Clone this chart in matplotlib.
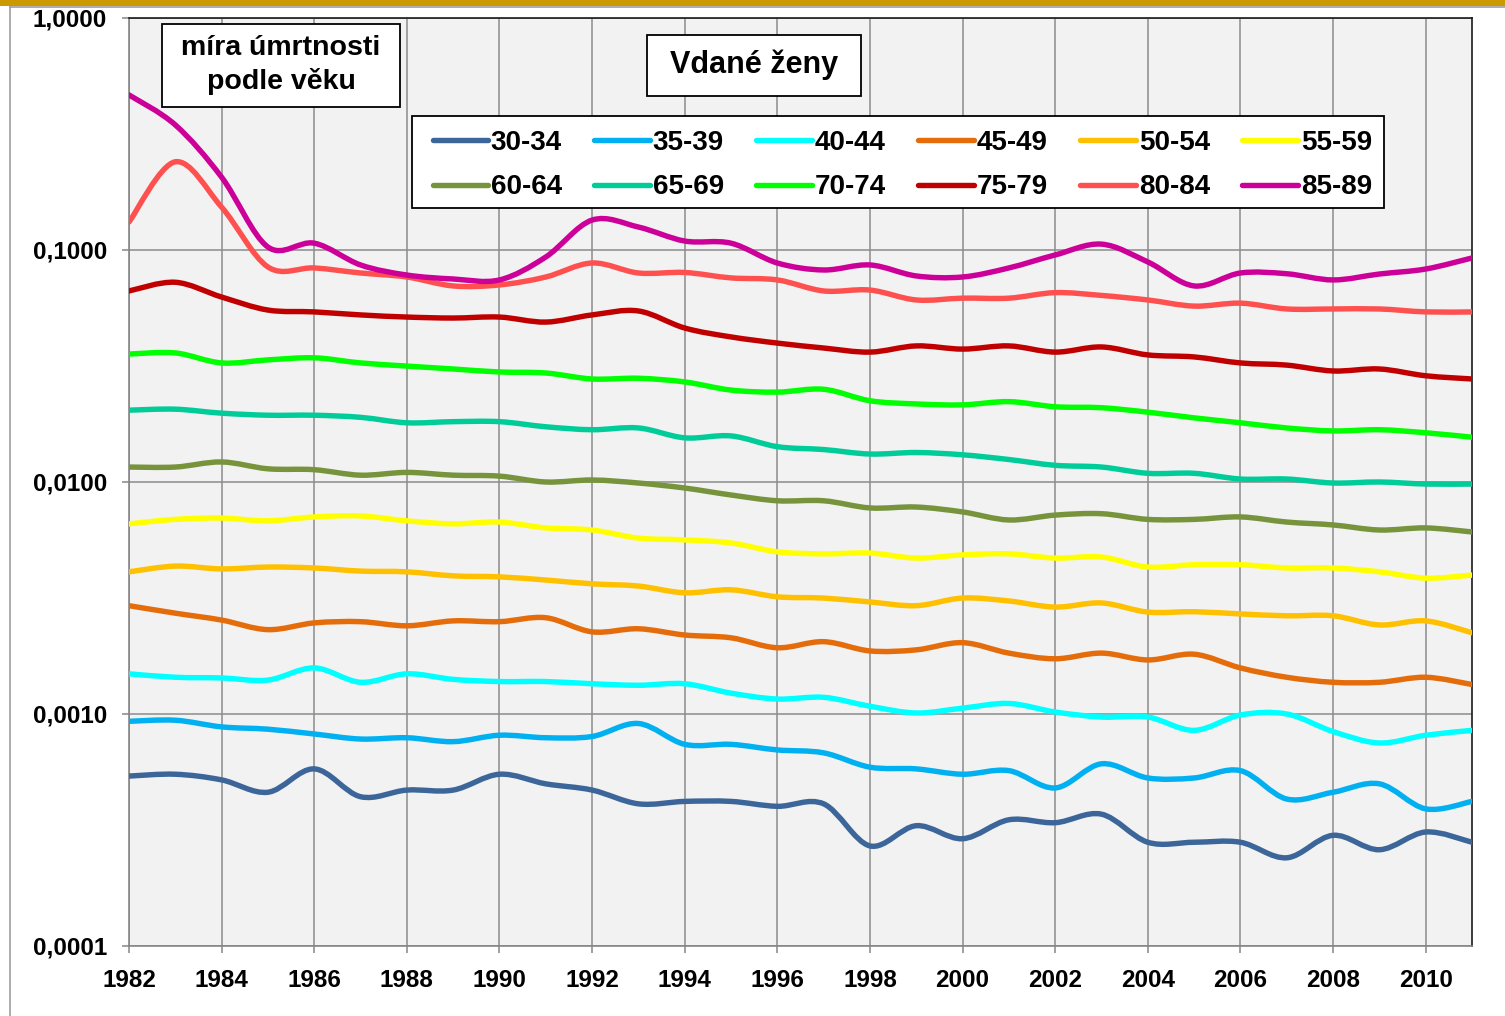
import numpy as np
import matplotlib
matplotlib.use("Agg")
import matplotlib.pyplot as plt
from matplotlib.path import Path
from matplotlib.patches import PathPatch, Rectangle
from matplotlib.lines import Line2D

plt.rcParams['font.family'] = ['Liberation Sans', 'DejaVu Sans']
plt.rcParams['font.weight'] = 'bold'

# ---- data ----
years = list(range(1982, 2012))
groups = ['30-34', '35-39', '40-44', '45-49', '50-54', '55-59',
          '60-64', '65-69', '70-74', '75-79', '80-84', '85-89']
colors = ['#3C6699', '#00B0F0', '#00FFFF', '#E46C0A', '#FFC000', '#FFFF00',
          '#77933C', '#00CC99', '#00FF00', '#C00000', '#FF5050', '#CC0099']

r30_34 = [0.00054, 0.00055, 0.00052, 0.00046, 0.00058, 0.00044, 0.00047, 0.00047, 0.00055, 0.00050,
          0.00047, 0.00041, 0.00042, 0.00042, 0.00040, 0.00041, 0.00027, 0.00033, 0.00029, 0.00035,
          0.00034, 0.00037, 0.00028, 0.00028, 0.00028, 0.00024, 0.00030, 0.00026, 0.00031, 0.00028]
r35_39 = [0.00093, 0.00094, 0.00088, 0.00086, 0.00082, 0.00078, 0.00079, 0.00076, 0.00081, 0.00079,
          0.00080, 0.00091, 0.00074, 0.00074, 0.00070, 0.00068, 0.00059, 0.00058, 0.00055, 0.00057,
          0.00048, 0.00061, 0.00053, 0.00053, 0.00057, 0.00043, 0.00046, 0.00050, 0.00039, 0.00042]
r40_44 = [0.00149, 0.00144, 0.00143, 0.00140, 0.00158, 0.00137, 0.00149, 0.00141, 0.00138, 0.00138,
          0.00135, 0.00133, 0.00135, 0.00123, 0.00116, 0.00118, 0.00108, 0.00101, 0.00106, 0.00111,
          0.00102, 0.00097, 0.00097, 0.00085, 0.00099, 0.00100, 0.00084, 0.00075, 0.00081, 0.00085]
r45_49 = [0.00293, 0.00272, 0.00254, 0.00231, 0.00247, 0.00250, 0.00240, 0.00252, 0.00250, 0.00260,
          0.00226, 0.00233, 0.00219, 0.00213, 0.00193, 0.00205, 0.00187, 0.00189, 0.00203, 0.00183,
          0.00173, 0.00183, 0.00171, 0.00181, 0.00158, 0.00144, 0.00137, 0.00137, 0.00144, 0.00134]
r50_54 = [0.00410, 0.00434, 0.00422, 0.00430, 0.00426, 0.00413, 0.00410, 0.00394, 0.00390, 0.00378,
          0.00364, 0.00356, 0.00333, 0.00343, 0.00320, 0.00316, 0.00304, 0.00293, 0.00316, 0.00307,
          0.00289, 0.00301, 0.00275, 0.00276, 0.00270, 0.00265, 0.00265, 0.00242, 0.00252, 0.00224]
r55_59 = [0.00660, 0.00690, 0.00699, 0.00680, 0.00707, 0.00714, 0.00680, 0.00660, 0.00672, 0.00634,
          0.00621, 0.00573, 0.00563, 0.00546, 0.00500, 0.00490, 0.00494, 0.00470, 0.00485, 0.00490,
          0.00470, 0.00475, 0.00430, 0.00440, 0.00440, 0.00426, 0.00426, 0.00410, 0.00385, 0.00397]
r60_64 = [0.0116, 0.0116, 0.0122, 0.0114, 0.0113, 0.0107, 0.0110, 0.0107, 0.0106, 0.0100,
          0.0102, 0.0099, 0.00942, 0.00879, 0.00830, 0.00830, 0.00773, 0.00780, 0.00743, 0.00686,
          0.00720, 0.00730, 0.00690, 0.00690, 0.00707, 0.00672, 0.00653, 0.00621, 0.00634, 0.00609]
r65_69 = [0.0204, 0.0206, 0.0198, 0.0194, 0.0194, 0.0190, 0.0180, 0.0182, 0.0182, 0.0173,
          0.0168, 0.0171, 0.0155, 0.0158, 0.0142, 0.0138, 0.0132, 0.0134, 0.0131, 0.0125,
          0.0118, 0.0116, 0.0109, 0.0109, 0.0103, 0.0103, 0.0099, 0.0100, 0.0098, 0.0098]
r70_74 = [0.0356, 0.0360, 0.0326, 0.0336, 0.0343, 0.0326, 0.0316, 0.0307, 0.0298, 0.0295,
          0.0278, 0.0280, 0.0270, 0.0249, 0.0244, 0.0251, 0.0224, 0.0217, 0.0215, 0.0222,
          0.0211, 0.0209, 0.0200, 0.0189, 0.0180, 0.0171, 0.0166, 0.0168, 0.0163, 0.0156]
r75_79 = [0.0666, 0.0726, 0.0627, 0.0551, 0.0541, 0.0525, 0.0514, 0.0509, 0.0514, 0.0489,
          0.0525, 0.0546, 0.0461, 0.0422, 0.0397, 0.0378, 0.0363, 0.0386, 0.0374, 0.0386,
          0.0363, 0.0382, 0.0353, 0.0346, 0.0326, 0.0319, 0.0301, 0.0307, 0.0287, 0.0278]
r80_84 = [0.132, 0.240, 0.153, 0.0845, 0.0837, 0.0796, 0.0765, 0.0700, 0.0707, 0.0765,
          0.0879, 0.0796, 0.0800, 0.0758, 0.0743, 0.0666, 0.0672, 0.0609, 0.0620, 0.0620,
          0.0655, 0.0637, 0.0609, 0.0573, 0.0590, 0.0557, 0.0557, 0.0557, 0.0541, 0.0541]
r85_89 = [0.466, 0.346, 0.206, 0.103, 0.107, 0.0862, 0.0780, 0.0750, 0.0743, 0.0933,
          0.1346, 0.1256, 0.1093, 0.107, 0.0879, 0.0820, 0.0862, 0.0773, 0.0765, 0.0837,
          0.0952, 0.106, 0.0888, 0.0700, 0.0796, 0.0790, 0.0743, 0.0788, 0.0828, 0.0924]

series = [r30_34, r35_39, r40_44, r45_49, r50_54, r55_59,
          r60_64, r65_69, r70_74, r75_79, r80_84, r85_89]

ytick_vals = [0.0001, 0.001, 0.01, 0.1, 1.0]
ytick_labels = ['0,0001', '0,0010', '0,0100', '0,1000', '1,0000']
xtick_vals = list(range(1982, 2012, 2))

W, H = 1505, 1016
fx = lambda px: px / W
fy = lambda py: 1 - py / H


def smooth_path(xs, ys):
    # Excel-like smoothed line: cubic bezier through the points, built in log space
    x = np.asarray(xs, float)
    ly = np.log10(np.asarray(ys, float))
    n = len(x)
    verts = [(x[0], ys[0])]
    codes = [Path.MOVETO]
    for i in range(n - 1):
        i0, i3 = max(i - 1, 0), min(i + 2, n - 1)
        c1x = x[i] + (x[i + 1] - x[i0]) / 6
        c1y = ly[i] + (ly[i + 1] - ly[i0]) / 6
        c2x = x[i + 1] - (x[i3] - x[i]) / 6
        c2y = ly[i + 1] - (ly[i3] - ly[i]) / 6
        verts += [(c1x, 10 ** c1y), (c2x, 10 ** c2y), (x[i + 1], ys[i + 1])]
        codes += [Path.CURVE4] * 3
    return Path(verts, codes)


fig = plt.figure(figsize=(W / 100, H / 100), dpi=100)
ax = fig.add_axes([fx(129), fy(946), fx(1472) - fx(129), fy(18) - fy(946)])
ax.set_facecolor('#F2F2F2')
ax.set_yscale('log')
ax.set_xlim(1982, 2011)
ax.set_ylim(0.0001, 1.0)

for vals, col in zip(series, colors):
    ax.add_patch(PathPatch(smooth_path(years, vals), fill=False, edgecolor=col,
                           lw=3.9, capstyle='round', joinstyle='round', zorder=3))

ax.set_yticks(ytick_vals)
ax.set_yticklabels(ytick_labels)
ax.yaxis.set_minor_locator(matplotlib.ticker.NullLocator())
ax.set_xticks(xtick_vals)
ax.set_xticklabels([str(v) for v in xtick_vals])
ax.tick_params(axis='both', which='major', direction='out', length=5, width=1.1,
               color='#868686', labelsize=17.5)
ax.tick_params(axis='y', pad=11)
ax.tick_params(axis='x', pad=11.5)
for lab in ax.get_xticklabels() + ax.get_yticklabels():
    lab.set_fontweight('bold')

ax.grid(True, color='#8C8C8C', lw=1.1, zorder=1)
ax.set_axisbelow(True)
for side in ['left', 'bottom']:
    ax.spines[side].set_color('#868686')
    ax.spines[side].set_linewidth(1.2)
for side in ['top', 'right']:
    ax.spines[side].set_color('#1A1A1A')
    ax.spines[side].set_linewidth(1.2)

# legend box drawn by hand, entries laid out row by row like the original
ax.add_patch(Rectangle((fx(412), fy(208)), fx(1384) - fx(412), fy(116) - fy(208),
                       transform=fig.transFigure, facecolor='white', clip_on=False,
                       edgecolor='black', lw=1.3, zorder=4))
handles = [Line2D([], [], color=c, lw=3.9, solid_capstyle='round') for c in colors]
order = [0, 6, 1, 7, 2, 8, 3, 9, 4, 10, 5, 11]
leg = ax.legend([handles[i] for i in order], [groups[i] for i in order], ncol=6,
                loc='upper left', bbox_to_anchor=(fx(420), fy(117)),
                bbox_transform=fig.transFigure, borderaxespad=0,
                prop={'size': 20, 'weight': 'bold'}, handlelength=2.0,
                handletextpad=0.1, columnspacing=1.17, labelspacing=0.68,
                borderpad=0.45, frameon=False)
leg.set_zorder(5)

# text boxes
for (x0, y0, x1, y1), txt, fs in [((162, 24, 400, 107), 'míra úmrtnosti\npodle věku', 20.5),
                                    ((647, 35, 861, 96), 'Vdané ženy', 22)]:
    fig.add_artist(Rectangle((fx(x0), fy(y1)), fx(x1) - fx(x0), fy(y0) - fy(y1),
                             transform=fig.transFigure, facecolor='white',
                             edgecolor='black', lw=1.3, zorder=6))
    fig.text(fx((x0 + x1) / 2), fy((y0 + y1) / 2 - 0.5), txt, ha='center', va='center',
             fontsize=fs, fontweight='bold', linespacing=1.33, zorder=7)

# chart-area frame: gold bar on top, thin grey lines
fig.add_artist(Rectangle((0, fy(6)), 1, fy(0) - fy(6), transform=fig.transFigure,
                         facecolor='#CC9900', edgecolor='none'))
fig.add_artist(Line2D([fx(10), 1], [fy(7), fy(7)], color='#A0A0A0', lw=1.2))
fig.add_artist(Line2D([fx(10), fx(10)], [0, fy(7)], color='#A0A0A0', lw=1.2))

fig.savefig('out.png', dpi=100)
